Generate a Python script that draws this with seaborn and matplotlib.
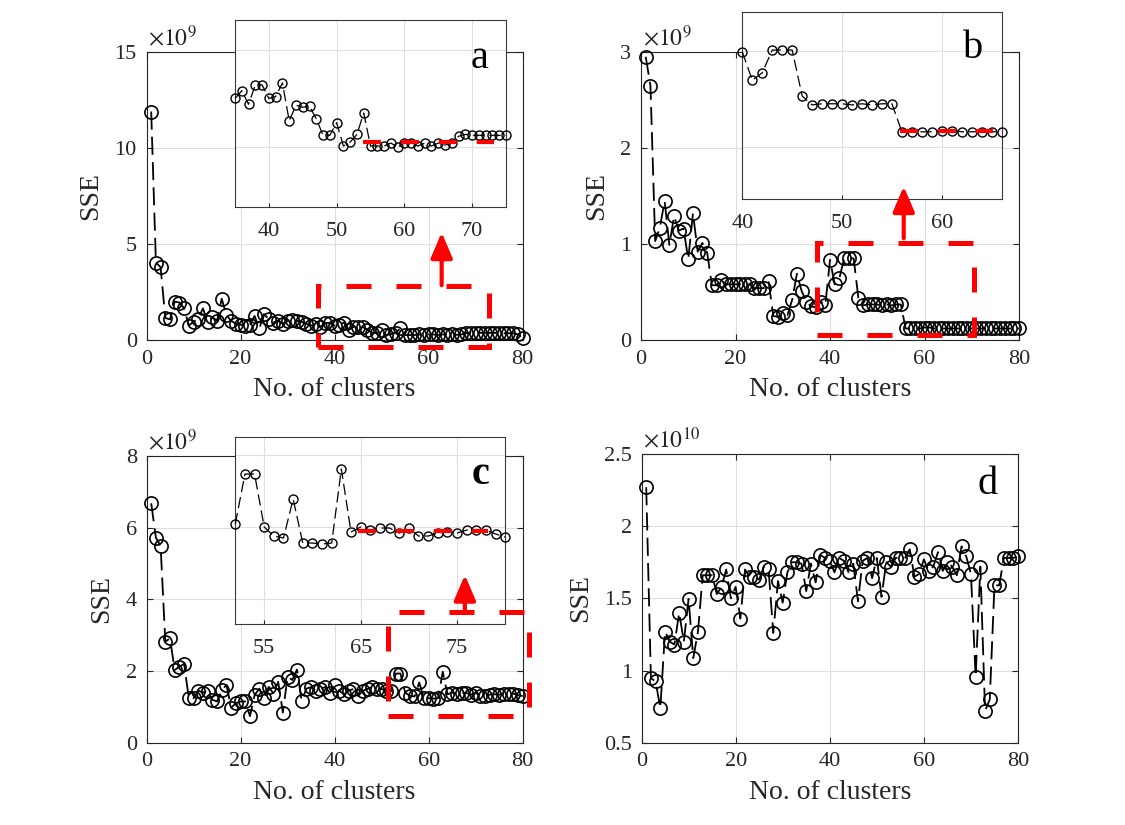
import numpy as np
import matplotlib
matplotlib.use("Agg")
import matplotlib.pyplot as plt
import seaborn as sns
from matplotlib.patches import Rectangle

# ---------------- data (SSE in units of the axis multiplier) ----------------
clusters = list(range(1, 81))

sse_a = [11.9, 4.03, 3.79, 1.15, 1.07, 2.0, 1.95, 1.65, 0.75, 0.95,
         1.1, 1.65, 0.95, 1.2, 1.0, 2.15, 1.3, 1.0, 0.85, 0.8,
         0.75, 0.8, 1.25, 0.6, 1.35, 1.1, 0.9, 1.0, 0.85, 1.0,
         1.05, 1.0, 0.95, 0.85, 0.75, 0.83, 0.69, 0.89, 0.89, 0.75,
         0.77, 0.91, 0.52, 0.68, 0.66, 0.67, 0.54, 0.37, 0.37, 0.50,
         0.26, 0.30, 0.38, 0.60, 0.26, 0.26, 0.26, 0.29, 0.25, 0.29,
         0.29, 0.26, 0.29, 0.26, 0.29, 0.27, 0.29, 0.36, 0.38, 0.37,
         0.37, 0.37, 0.37, 0.37, 0.37, 0.35, 0.35, 0.35, 0.30, 0.10]

sse_b = [2.95, 2.65, 1.03, 1.17, 1.45, 0.99, 1.29, 1.14, 1.16, 0.84,
         1.32, 0.92, 1.01, 0.91, 0.57, 0.57, 0.63, 0.58, 0.58, 0.58,
         0.58, 0.58, 0.58, 0.54, 0.54, 0.54, 0.61, 0.25, 0.24, 0.28,
         0.26, 0.42, 0.69, 0.51, 0.40, 0.35, 0.34, 0.40, 0.36, 0.835,
         0.58, 0.647, 0.85, 0.85, 0.85, 0.44, 0.36, 0.37, 0.37, 0.37,
         0.36, 0.37, 0.36, 0.37, 0.37, 0.12, 0.12, 0.12, 0.12, 0.13,
         0.13, 0.12, 0.12, 0.12, 0.12, 0.12, 0.12, 0.12, 0.12, 0.12,
         0.12, 0.12, 0.12, 0.12, 0.12, 0.12, 0.12, 0.12, 0.12, 0.12]

sse_c = [6.68, 5.72, 5.49, 2.82, 2.91, 2.03, 2.12, 2.2, 1.24, 1.24,
         1.45, 1.40, 1.45, 1.2, 1.15, 1.47, 1.61, 0.98, 1.1, 1.15,
         1.15, 0.74, 1.33, 1.51, 1.24, 1.56, 1.37, 1.70, 0.84, 1.84,
         1.75, 2.04, 1.17, 1.51, 1.55, 1.45, 1.5, 1.55, 1.4, 1.6,
         1.45, 1.35, 1.45, 1.5, 1.3, 1.45, 1.5, 1.55, 1.5, 1.5,
         1.45, 1.43, 1.93, 1.93, 1.40, 1.31, 1.29, 1.68, 1.24, 1.24,
         1.23, 1.24, 1.98, 1.35, 1.40, 1.37, 1.39, 1.39, 1.34, 1.39,
         1.31, 1.31, 1.34, 1.35, 1.34, 1.37, 1.37, 1.37, 1.33, 1.30]

sse_d = [2.27, 0.947, 0.924, 0.739, 1.27, 1.20, 1.18, 1.40, 1.20, 1.496,
         1.086, 1.27, 1.66, 1.66, 1.66, 1.53, 1.58, 1.70, 1.50, 1.58,
         1.36, 1.70, 1.65, 1.65, 1.63, 1.72, 1.70, 1.26, 1.62, 1.47,
         1.68, 1.75, 1.75, 1.74, 1.55, 1.74, 1.61, 1.80, 1.78, 1.76,
         1.68, 1.78, 1.76, 1.68, 1.74, 1.48, 1.76, 1.78, 1.64, 1.78,
         1.51, 1.75, 1.72, 1.78, 1.78, 1.78, 1.84, 1.65, 1.67, 1.77,
         1.69, 1.72, 1.82, 1.69, 1.75, 1.72, 1.66, 1.86, 1.79, 1.67,
         0.958, 1.72, 0.72, 0.80, 1.59, 1.59, 1.78, 1.78, 1.78, 1.79]

panel_letters = ["a", "b", "c", "d"]
multipliers = [r"$\times10^{9}$", r"$\times10^{9}$", r"$\times10^{9}$", r"$\times10^{10}$"]
y_limits = [(0, 15), (0, 3), (0, 8), (0.5, 2.5)]
y_ticks = [[0, 5, 10, 15], [0, 1, 2, 3], [0, 2, 4, 6, 8], [0.5, 1, 1.5, 2, 2.5]]
x_ticks = [0, 20, 40, 60, 80]

# inset ranges
inset_a_x = (35, 75)
inset_b_x = (40, 66)
inset_c_x = (52, 80)

# ---------------- style ----------------
sns.set_theme(style="ticks")
plt.rcParams["font.family"] = ["Liberation Serif", "DejaVu Serif"]
plt.rcParams["mathtext.fontset"] = "stix"
DARK = "#262626"

fig = plt.figure(figsize=(11.25, 8.25), dpi=100)
W, H = 1125.0, 825.0


def add_axes_px(x0, x1, ytop, ybot):
    return fig.add_axes([x0 / W, 1 - ybot / H, (x1 - x0) / W, (ybot - ytop) / H])


axA = add_axes_px(146.5, 522.5, 52, 340)
axB = add_axes_px(641, 1019, 52, 340)
axC = add_axes_px(146.5, 522.7, 456, 742.7)
axD = add_axes_px(641.5, 1018, 454, 742.7)
axes = [axA, axB, axC, axD]
series = [sse_a, sse_b, sse_c, sse_d]

MAIN_DASH = (0, (10, 4))


def draw_series(ax, xs, ys, lw, ms, mew, dash):
    sns.lineplot(x=xs, y=ys, ax=ax, color="black", linewidth=lw, estimator=None,
                 linestyle=dash, marker="o", markersize=ms,
                 markerfacecolor="none", markeredgecolor="black",
                 markeredgewidth=mew, zorder=3)
    ln = ax.lines[-1]
    ln.set_markerfacecolor("none")
    ln.set_markeredgecolor("black")
    ln.set_clip_on(False)


for i, ax in enumerate(axes):
    draw_series(ax, clusters, series[i], 1.3, 9.5, 1.2, MAIN_DASH)
    ax.set_xlim(0, 80)
    ax.set_ylim(*y_limits[i])
    ax.set_xticks(x_ticks)
    ax.set_yticks(y_ticks[i])
    ax.set_yticklabels([("%g" % v) for v in y_ticks[i]])
    ax.grid(True, color="#dedede", linewidth=0.8)
    ax.set_axisbelow(True)
    ax.tick_params(direction="in", top=True, right=True, length=4, width=0.8,
                   colors=DARK, labelsize=16, pad=7)
    for s in ax.spines.values():
        s.set_color(DARK)
        s.set_linewidth(0.8)
    ax.set_xlabel("No. of clusters", fontsize=20, color=DARK, labelpad=6)
    ax.set_ylabel("SSE", fontsize=20, color=DARK, labelpad=8)
    ax.text(0.005, 1.004, multipliers[i], transform=ax.transAxes, ha="left",
            va="bottom", fontsize=17, color=DARK)


def make_inset(ax, bounds, xr, ylim, xt, yt, ys_full, letter, letter_pos, bold=False):
    ins = ax.inset_axes(bounds)
    ins.set_zorder(5)
    ins.set_facecolor("white")
    xs = [c for c in clusters if xr[0] <= c <= xr[1]]
    ys = [ys_full[c - 1] for c in xs]
    draw_series(ins, xs, ys, 0.9, 6.5, 1.0, (0, (9, 4)))
    ins.set_xlim(*xr)
    ins.set_ylim(*ylim)
    ins.set_xticks(xt)
    ins.set_yticks(yt)
    ins.set_yticklabels([])
    ins.grid(True, color="#dedede", linewidth=0.8)
    ins.set_axisbelow(True)
    ins.tick_params(axis="x", direction="in", length=3, width=0.8, colors=DARK,
                    labelsize=16, pad=11)
    ins.tick_params(axis="y", length=0)
    ins.set_xlabel("")
    ins.set_ylabel("")
    for s in ins.spines.values():
        s.set_color("#3a3a3a")
        s.set_linewidth(0.8)
    ins.text(letter_pos[0], letter_pos[1], letter, transform=ins.transAxes,
             ha="center", va="baseline", fontsize=29, color="black",
             fontweight="bold" if bold else "normal")
    return ins


insA = make_inset(axA, [0.2354, 0.4618, 0.7207, 0.6493], inset_a_x, (-0.369, 1.559),
                  [40, 50, 60, 70], [0.25, 1.25], sse_a, "a", (0.904, 0.743))
insB = make_inset(axB, [0.268, 0.4896, 0.6862, 0.6483], inset_b_x, (-0.48, 1.187),
                  [40, 50, 60], [-0.02, 0.84], sse_b, "b", (0.891, 0.754))
insC = make_inset(axC, [0.236, 0.414, 0.7177, 0.651], inset_c_x, (0.43, 2.297),
                  [55, 65, 75], [0.68, 1.40, 2.12], sse_c, "c", (0.908, 0.75), bold=True)
axD.text(0.918, 0.86, "d", transform=axD.transAxes, ha="center", va="baseline",
         fontsize=29, color="black")

# ---------------- red highlight boxes, arrows and inset markers ----------------
RED = "#ff0000"
boxes = [(axA, 36.5, 72.8, -0.36, 2.81), (axB, 37.3, 70.4, 0.05, 1.01),
         (axC, 51.4, 81.4, 0.75, 3.65)]
for ax, x0, x1, y0, y1 in boxes:
    r = Rectangle((x0, y0), x1 - x0, y1 - y0, fill=False, edgecolor=RED,
                  linewidth=3.6, linestyle=(0, (5, 5)), zorder=10, clip_on=False)
    ax.add_patch(r)

arrows = [(axA, 62.8, 2.85, 5.6), (axB, 55.6, 1.06, 1.6), (axC, 67.7, 3.65, 4.68)]
for ax, x, y0, y1 in arrows:
    ax.annotate("", xy=(x, y1), xytext=(x, y0),
                arrowprops=dict(arrowstyle="-|>,head_length=0.7,head_width=0.3",
                                color=RED, lw=3, mutation_scale=22,
                                shrinkA=0, shrinkB=0),
                annotation_clip=False, zorder=11)

inset_marks = [(insA, 53.9, 73.2, 0.305), (insB, 55.8, 65.1, 0.13), (insC, 64.7, 78.2, 1.36)]
for ins, x0, x1, y in inset_marks:
    ins.plot([x0, x1], [y, y], color=RED, linewidth=3, linestyle=(0, (4.3, 4.8)),
             zorder=6, solid_capstyle="butt", dash_capstyle="butt")

fig.savefig("out.png", dpi=100)
